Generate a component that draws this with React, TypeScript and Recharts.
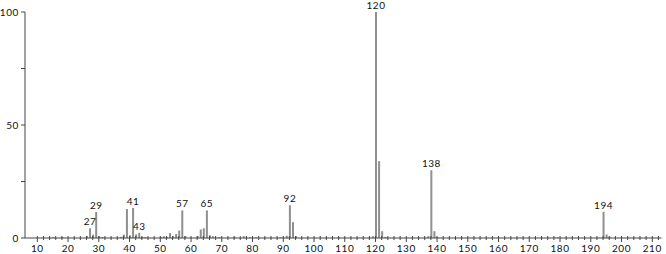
import React from "react";
import { BarChart, Bar, XAxis, YAxis, LabelList } from "recharts";

// m/z values and relative intensities
const mz = [
  15, 18, 26, 27, 28, 29, 30, 31, 37, 38, 39, 40, 41, 42, 43, 44, 45, 50, 51, 52,
  53, 54, 55, 56, 57, 58, 62, 63, 64, 65, 66, 67, 69, 74, 77, 79, 81, 89, 91, 92,
  93, 94, 108, 119, 120, 121, 122, 123, 137, 138, 139, 140, 179, 194, 195, 196,
];
const intensity = [
  0.4, 0.4, 0.9, 4.3, 1.5, 11.5, 0.8, 0.5, 0.5, 1.5, 12.8, 1.2, 13.3, 1.6, 2.3, 0.5, 0.4, 0.5, 0.8, 0.5,
  2.2, 0.8, 1.8, 3.3, 12.2, 0.8, 0.8, 3.8, 4.3, 12.2, 1.2, 0.8, 0.4, 0.5, 0.8, 0.3, 0.3, 0.3, 1.0, 14.5,
  7.0, 0.8, 0.3, 0.8, 100, 34, 3.0, 0.5, 0.8, 30, 3.0, 0.3, 0.3, 11.6, 1.5, 0.5,
];
const labeledMz = [27, 29, 41, 43, 57, 65, 92, 120, 138, 194];

const xTicks: number[] = [];
for (let v = 10; v <= 212; v += 2) xTicks.push(v);
const yTicks = [0, 25, 50, 75, 100];

const data = mz.map((m, i) => ({
  mz: m,
  value: intensity[i],
  label: labeledMz.includes(m) ? String(m) : undefined,
}));

const FONT = "Lato";
const AXIS = "#444";
const PEAK = "#8f8f8f";

function XTick({ x, y, payload }: any) {
  const v = payload.value;
  const major = v % 10 === 0;
  return (
    <g>
      <line x1={x} x2={x} y1={y - 2} y2={y + (major ? 4 : 2)} stroke={AXIS} strokeWidth={1} />
      {major && (
        <text x={x} y={y + 14} textAnchor="middle" fontFamily={FONT} fontSize={10} letterSpacing={0.6} fill="#111">
          {v}
        </text>
      )}
    </g>
  );
}

function YTick({ x, y, payload }: any) {
  const v = payload.value;
  const major = v % 50 === 0;
  return (
    <g>
      <line x1={x - 4} x2={x} y1={y} y2={y} stroke={AXIS} strokeWidth={1} />
      {major && (
        <text x={x - 6} y={y + 3.5} textAnchor="end" fontFamily={FONT} fontSize={10} letterSpacing={0.6} fill="#111">
          {v}
        </text>
      )}
    </g>
  );
}

function PeakLabel({ x, y, width, value }: any) {
  if (!value) return null;
  return (
    <text x={x + width / 2} y={y - 3} textAnchor="middle" fontFamily={FONT} fontSize={10} letterSpacing={0.5} fill="#111">
      {value}
    </text>
  );
}

export default function App() {
  return (
    <div style={{ position: "absolute", left: 0, top: 0, background: "#fff" }}>
      <BarChart
        width={666}
        height={254}
        data={data}
        margin={{ top: 12, right: 4.5, left: 0, bottom: 0 }}
      >
        <XAxis
          dataKey="mz"
          type="number"
          domain={[6, 213]}
          ticks={xTicks}
          interval={0}
          tick={<XTick />}
          tickLine={false}
          tickSize={0}
          tickMargin={0}
          height={16}
          stroke={AXIS}
          allowDataOverflow
        />
        <YAxis
          type="number"
          domain={[0, 100]}
          ticks={yTicks}
          interval={0}
          tick={<YTick />}
          tickLine={false}
          tickSize={0}
          tickMargin={0}
          width={25}
          stroke={AXIS}
        />
        <Bar dataKey="value" fill={PEAK} barSize={2} isAnimationActive={false}>
          <LabelList dataKey="label" content={<PeakLabel />} />
        </Bar>
      </BarChart>
    </div>
  );
}
